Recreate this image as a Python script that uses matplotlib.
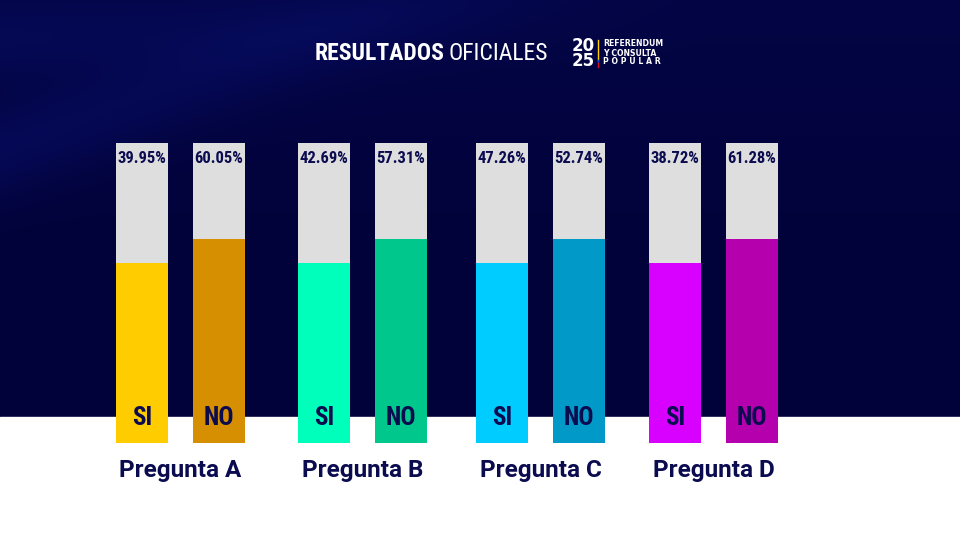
import numpy as np
import matplotlib
matplotlib.use("Agg")
from matplotlib import pyplot as plt
from matplotlib import font_manager

# datos
preguntas = ["Pregunta A", "Pregunta B", "Pregunta C", "Pregunta D"]
pct_si = [39.95, 42.69, 47.26, 38.72]
pct_no = [60.05, 57.31, 52.74, 61.28]
# nivel de relleno de cada barra (el diseño no es proporcional al valor)
relleno_si = [60, 60, 60, 60]
relleno_no = [68, 68, 68, 68]
colores_si = ["#ffcc00", "#00ffbb", "#00ccff", "#d800ff"]
colores_no = ["#d68f00", "#00c78b", "#0099c8", "#b500ae"]

navy = "#0b0b50"
gris = "#dedede"

# fuente condensada si existe
nombres = {f.name for f in font_manager.fontManager.ttflist}
condensada = "DejaVu Sans"
for n in ["Roboto Condensed", "Liberation Sans Narrow", "DejaVu Sans Condensed"]:
    if n in nombres:
        condensada = n
        break
normal = "Roboto" if "Roboto" in nombres else "DejaVu Sans"

fig = plt.figure(figsize=(9.6, 5.4), dpi=100)

# fondo
bg = fig.add_axes([0, 0, 1, 1])
bg.set_xlim(0, 960)
bg.set_ylim(540, 0)
bg.axis("off")
xx, yy = np.meshgrid(np.arange(960), np.arange(417))
base = np.array([2, 2, 58]) / 255.0
luz = np.array([8, 16, 110]) / 255.0
d1 = np.abs(yy - (150 - 0.35 * xx))
d2 = np.abs(yy - (40 - 0.05 * xx))
banda = (np.exp(-(d1 / 45.0) ** 2) * 0.45 + np.exp(-(d2 / 40.0) ** 2) * 0.35) * np.clip(1 - xx / 700.0, 0, 1)
arriba = np.clip(1 - yy / 260.0, 0, 1) * 0.2
w = np.clip(banda + arriba, 0, 1)[..., None]
img = base * (1 - w) + luz * w
bg.imshow(img, extent=[0, 960, 417, 0], aspect="auto", zorder=0)
bg.add_patch(plt.Rectangle((0, 417), 960, 123, color="white", zorder=0))

# titulo
bg.text(445, 53, "RESULTADOS", color="white", fontsize=17, fontweight="bold",
        family=condensada, ha="right", va="center")
bg.text(449, 53, "OFICIALES", color="white", fontsize=17,
        family=condensada, ha="left", va="center")

# logo
bg.text(583.5, 53.5, "20\n25", color="white", fontsize=12, fontweight="bold",
        family="DejaVu Sans", ha="center", va="center", linespacing=0.82)
bg.plot([598, 598], [40, 60], color="#ffd200", lw=1)
bg.plot([598, 598], [60, 63], color="#2040c0", lw=1)
bg.plot([598, 598], [63, 67], color="#d01020", lw=1)
bg.text(603, 53, "REFERENDUM\nY CONSULTA\nP O P U L A R", color="white", fontsize=5.6,
        fontweight="bold", family="DejaVu Sans", va="center", linespacing=1.0)

# barras
centros = [180.5, 362.5, 540.5, 713.5]
sep = 38.5
ancho = 52
ax = fig.add_axes([0, (540 - 443) / 540, 1, 300 / 540])
ax.set_xlim(0, 960)
ax.set_ylim(0, 100)
ax.axis("off")
x_si = [c - sep for c in centros]
x_no = [c + sep for c in centros]
ax.bar(x_si + x_no, [100] * 8, width=ancho, color=gris, zorder=1)
ax.bar(x_si, relleno_si, width=ancho, color=colores_si, zorder=2)
ax.bar(x_no, relleno_no, width=ancho, color=colores_no, zorder=2)

for i in range(len(preguntas)):
    ax.text(x_si[i], 94.8, f"{pct_si[i]:.2f}%", color=navy, fontsize=12, fontweight="bold",
            family=condensada, ha="center", va="center", zorder=3)
    ax.text(x_no[i], 94.8, f"{pct_no[i]:.2f}%", color=navy, fontsize=12, fontweight="bold",
            family=condensada, ha="center", va="center", zorder=3)
    ax.text(x_si[i], 8.3, "SI", color=navy, fontsize=18, fontweight="bold",
            family=condensada, ha="center", va="center", zorder=3)
    ax.text(x_no[i], 8.3, "NO", color=navy, fontsize=18, fontweight="bold",
            family=condensada, ha="center", va="center", zorder=3)
    bg.text(centros[i], 470, preguntas[i], color=navy, fontsize=17.5, fontweight="bold",
            family=normal, ha="center", va="center")

fig.savefig("out.png", dpi=100)
